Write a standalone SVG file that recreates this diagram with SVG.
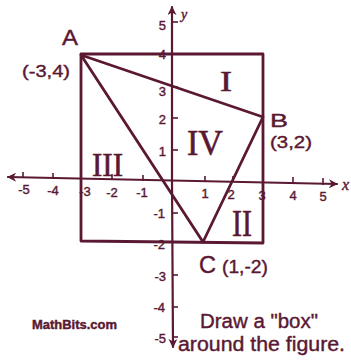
<svg xmlns="http://www.w3.org/2000/svg" width="351" height="360" viewBox="0 0 351 360">
<defs>
<style>
.ln{stroke:#5a1832;fill:none;stroke-linecap:round;stroke-linejoin:round}
.ax{stroke-width:2.2}
.fig{stroke-width:2.8}
.tk{stroke:#5a1832;stroke-width:1.6}
text{fill:#5a1832;stroke:#5a1832;stroke-width:0.4;font-family:"Liberation Sans",Arial,sans-serif}
.tl{font-size:13px}
.rom{font-family:"Liberation Serif","Times New Roman",serif;stroke-width:0.6}
.ital{font-family:"Liberation Serif","Times New Roman",serif;font-style:italic}
</style>
<marker id="arr" viewBox="0 0 10 10" refX="9" refY="5" markerWidth="9" markerHeight="9" markerUnits="userSpaceOnUse" orient="auto">
<path d="M0,0 L10,5 L0,10 L3,5 z" fill="#5a1832"/>
</marker>
</defs>
<rect width="351" height="360" fill="#ffffff"/>

<g id="axes">
<line class="ln ax" x1="172" y1="180.5" x2="8" y2="177" marker-end="url(#arr)"/>
<line class="ln ax" x1="172" y1="180.5" x2="337" y2="184" marker-end="url(#arr)"/>
<line class="ln ax" x1="172" y1="180" x2="172" y2="7" marker-end="url(#arr)"/>
<line class="ln ax" x1="172" y1="180" x2="173" y2="347" marker-end="url(#arr)"/>
<g id="xticks">
<line class="tk" x1="23" y1="172" x2="23" y2="178"/>
<line class="tk" x1="53" y1="173" x2="53" y2="179"/>
<line class="tk" x1="112" y1="174" x2="112" y2="180"/>
<line class="tk" x1="143" y1="175" x2="143" y2="181"/>
<line class="tk" x1="205" y1="176" x2="205" y2="182"/>
<line class="tk" x1="233" y1="176" x2="233" y2="182"/>
<line class="tk" x1="293" y1="177" x2="293" y2="184"/>
<line class="tk" x1="323" y1="178" x2="323" y2="185"/>
</g>
<g id="yticks">
<line class="tk" x1="172" y1="22" x2="178" y2="22"/>
<line class="tk" x1="172" y1="87" x2="178" y2="87"/>
<line class="tk" x1="172" y1="118" x2="178" y2="118"/>
<line class="tk" x1="172" y1="150" x2="178" y2="150"/>
<line class="tk" x1="172" y1="213" x2="178" y2="213"/>
<line class="tk" x1="172" y1="275" x2="178" y2="275"/>
<line class="tk" x1="172" y1="307" x2="178" y2="307"/>
<line class="tk" x1="172" y1="337" x2="178" y2="337"/>
</g>
<g id="xlabels" text-anchor="middle">
<text class="tl" x="24" y="194">-5</text>
<text class="tl" x="53" y="195">-4</text>
<text class="tl" x="85" y="196">-3</text>
<text class="tl" x="112" y="197">-2</text>
<text class="tl" x="142" y="197">-1</text>
<text class="tl" x="205" y="198">1</text>
<text class="tl" x="231" y="199">2</text>
<text class="tl" x="262" y="200">3</text>
<text class="tl" x="293" y="200">4</text>
<text class="tl" x="323" y="201">5</text>
</g>
<g id="ylabels" text-anchor="end">
<text class="tl" x="166" y="30">5</text>
<text class="tl" x="166" y="59">4</text>
<text class="tl" x="166" y="96">3</text>
<text class="tl" x="166" y="124">2</text>
<text class="tl" x="166" y="156">1</text>
<text class="tl" x="165" y="218">-1</text>
<text class="tl" x="165" y="249">-2</text>
<text class="tl" x="166" y="281">-3</text>
<text class="tl" x="165" y="312">-4</text>
<text class="tl" x="166" y="343">-5</text>
</g>
<text class="ital" x="342" y="190" font-size="16">x</text>
<text class="ital" x="181" y="19" font-size="14">y</text>
</g>

<g id="box">
<path class="ln fig" d="M81,54 L263,54 L263,243 L81,241 Z"/>
</g>

<g id="triangle">
<path class="ln fig" d="M81,55 L263,117 L203,242 Z"/>
</g>

<g id="regions">
<text class="rom" x="220" y="91" font-size="30" textLength="12" lengthAdjust="spacingAndGlyphs">I</text>
<text class="rom" x="187" y="155" font-size="36" textLength="36" lengthAdjust="spacingAndGlyphs">IV</text>
<text class="rom" x="92" y="176" font-size="34" textLength="31" lengthAdjust="spacingAndGlyphs">III</text>
<text class="rom" x="232" y="236" font-size="38" textLength="20" lengthAdjust="spacingAndGlyphs">II</text>
</g>

<g id="point-A">
<text x="62" y="45" font-size="22" textLength="16" lengthAdjust="spacingAndGlyphs">A</text>
<text x="22" y="77" font-size="17" textLength="48" lengthAdjust="spacingAndGlyphs">(-3,4)</text>
</g>
<g id="point-B">
<text x="270" y="127" font-size="19" textLength="18" lengthAdjust="spacingAndGlyphs">B</text>
<text x="270" y="148" font-size="17" textLength="42" lengthAdjust="spacingAndGlyphs">(3,2)</text>
</g>
<g id="point-C">
<text x="199" y="273" font-size="23" textLength="17" lengthAdjust="spacingAndGlyphs">C</text>
<text x="222" y="273" font-size="18" textLength="46" lengthAdjust="spacingAndGlyphs">(1,-2)</text>
</g>

<g id="caption">
<text x="200" y="328" font-size="20" textLength="118" lengthAdjust="spacingAndGlyphs">Draw a "box"</text>
<text x="178" y="351" font-size="20" textLength="167" lengthAdjust="spacingAndGlyphs">around the figure.</text>
<text x="32" y="329" font-size="12" font-weight="bold" textLength="85" lengthAdjust="spacingAndGlyphs">MathBits.com</text>
</g>
</svg>
